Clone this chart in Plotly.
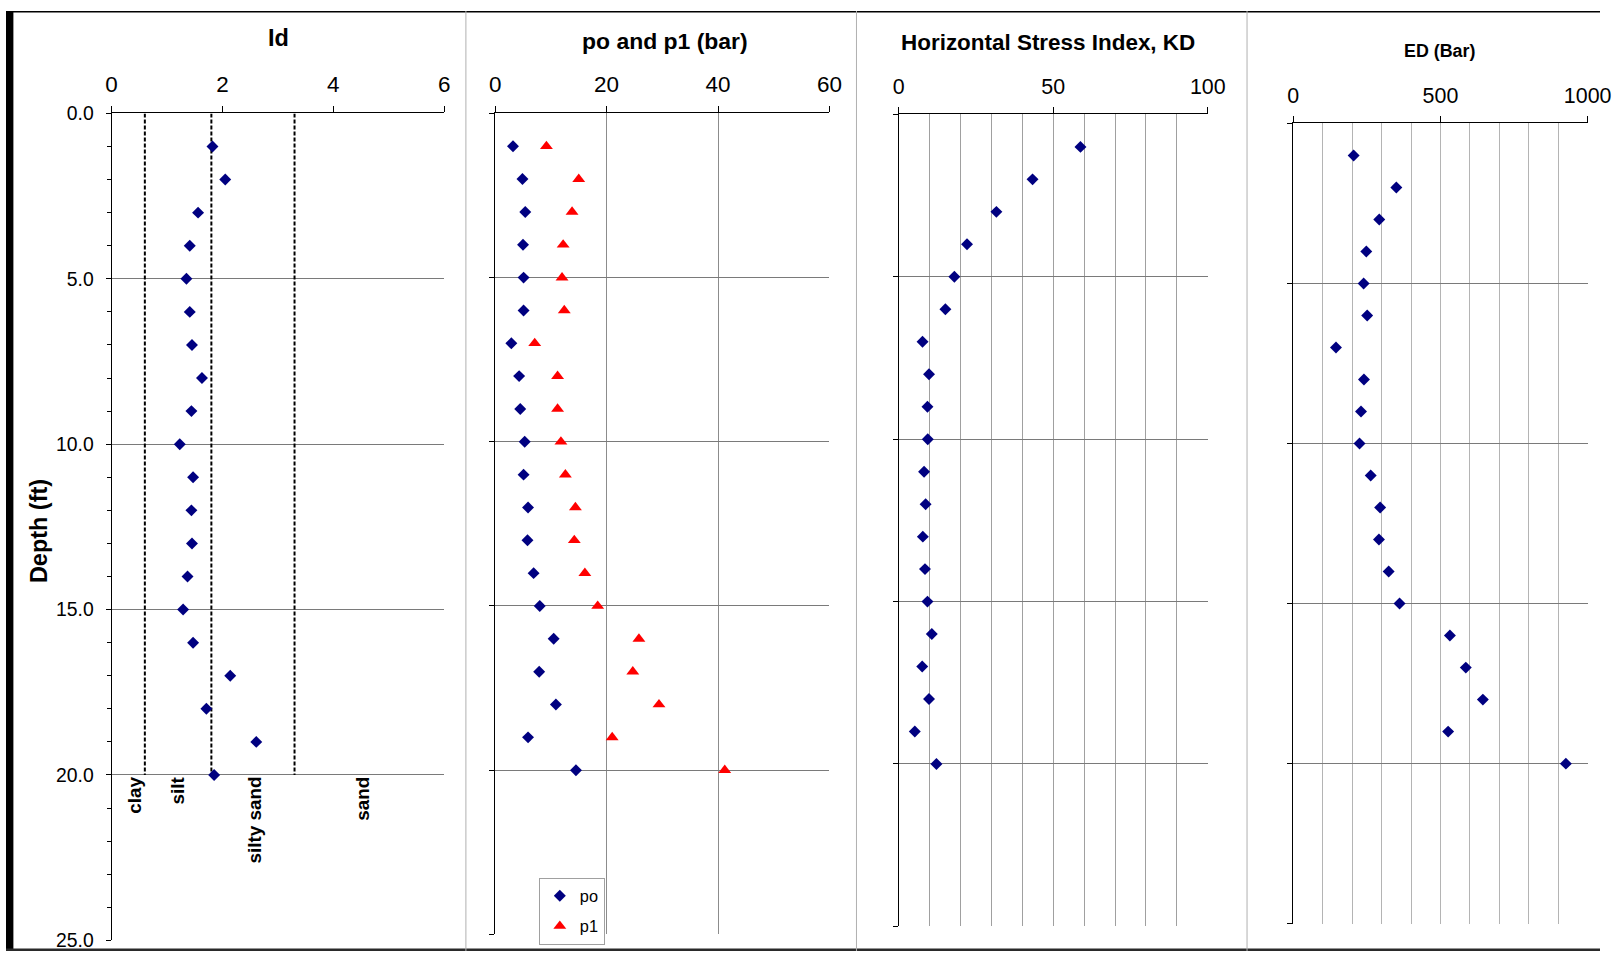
import plotly.graph_objects as go

W, H = 1624, 962

# ---------------- data ----------------
depth = list(range(1, 21))
id_vals = [1.82, 2.05, 1.56, 1.41, 1.35, 1.41, 1.45, 1.63, 1.44, 1.23,
           1.47, 1.44, 1.45, 1.37, 1.29, 1.47, 2.14, 1.71, 2.61, 1.85]
po_vals = [3.2, 4.9, 5.4, 5.0, 5.1, 5.1, 2.9, 4.3, 4.5, 5.3,
           5.1, 5.9, 5.8, 6.9, 8.0, 10.5, 7.9, 10.9, 5.9, 14.5]
p1_vals = [9.2, 15.0, 13.8, 12.2, 12.0, 12.4, 7.1, 11.2, 11.2, 11.8,
           12.6, 14.4, 14.2, 16.1, 18.4, 25.8, 24.7, 29.4, 21.0, 41.2]
kd_vals = [58.8, 43.3, 31.6, 22.1, 18.0, 15.1, 7.7, 9.8, 9.3, 9.4,
           8.2, 8.7, 7.8, 8.5, 9.3, 10.7, 7.6, 9.8, 5.2, 12.2]
ed_vals = [205, 350, 292, 248, 239, 251, 145, 240, 230, 225,
           263, 295, 291, 324, 361, 532, 586, 644, 526, 926]

soil_bounds = [0.6, 1.8, 3.3]
bound_depth = [0, 20]
soil_labels = ["clay", "silt", "silty sand", "sand"]
soil_label_x = [0.41, 1.19, 2.57, 4.53]

depth_ticks = [0, 5, 10, 15, 20, 25]
panel_titles = ["Id", "po and p1 (bar)", "Horizontal Stress Index, KD", "ED (Bar)"]
x_ranges = [[0, 6], [0, 60], [0, 100], [0, 1000]]
x_ticks = [[0, 2, 4, 6], [0, 20, 40, 60], [0, 50, 100], [0, 500, 1000]]

# The photographed page lands slightly scaled and offset in the picture;
# positions below are reference-picture pixels mapped back to page pixels.
SX, OX = 0.9826, 5.6
SY, OY = 0.978, 9.8
K = 1 / ((SX + SY) / 2)   # size compensation for fonts / markers


def fx(px):
    return ((px - OX) / SX) / W


def fy(py):
    return 1 - ((py - OY) / SY) / H


# ---------------- layout geometry (reference pixels) ----------------
panels = [
    (111.3, 444.3, 112.3, 940.0),
    (495.3, 830.0, 112.3, 934.0),
    (899.3, 1208.7, 113.3, 926.0),
    (1294.3, 1589.0, 122.3, 923.3),
]
title_pos = [(278, 37, 23), (665, 40, 22.5), (1049, 41, 22), (1441, 50, 17.5)]
tick_sizes = [22, 22, 21, 21]

FONT = "Liberation Sans, Arial, sans-serif"
NAVY = "#000080"
RED = "#FF0000"
DIA = 9 * K
TRI = 11 * K

fig = go.Figure()

# Panel 1: Id
for b in soil_bounds:
    fig.add_trace(go.Scatter(x=[b, b], y=bound_depth, mode="lines",
                             line=dict(color="black", width=2, dash="4px,2px"),
                             showlegend=False, hoverinfo="skip",
                             xaxis="x", yaxis="y"))
fig.add_trace(go.Scatter(x=id_vals, y=depth, mode="markers",
                         marker=dict(symbol="diamond", size=DIA, color=NAVY),
                         showlegend=False, xaxis="x", yaxis="y"))

# Panel 2: po, p1
fig.add_trace(go.Scatter(x=po_vals, y=depth, mode="markers", name="po",
                         marker=dict(symbol="diamond", size=DIA, color=NAVY),
                         legendgroup="a", xaxis="x2", yaxis="y2"))
fig.add_trace(go.Scatter(x=p1_vals, y=depth, mode="markers", name="p1",
                         marker=dict(symbol="triangle-up", size=TRI, color=RED),
                         legendgroup="b", xaxis="x2", yaxis="y2"))

# Panel 3: KD
fig.add_trace(go.Scatter(x=kd_vals, y=depth, mode="markers",
                         marker=dict(symbol="diamond", size=DIA, color=NAVY),
                         showlegend=False, xaxis="x3", yaxis="y3"))

# Panel 4: ED
fig.add_trace(go.Scatter(x=ed_vals, y=depth, mode="markers",
                         marker=dict(symbol="diamond", size=DIA, color=NAVY),
                         showlegend=False, xaxis="x4", yaxis="y4"))

layout = dict(
    autosize=True,
    margin=dict(l=0, r=0, t=0, b=0, pad=0),
    paper_bgcolor="white", plot_bgcolor="white",
    font=dict(family=FONT, color="black"),
    legend=dict(x=fx(539), y=fy(877.3), xanchor="left", yanchor="top",
                bgcolor="white", bordercolor="#a0a0a0", borderwidth=1,
                font=dict(size=16 * K, family=FONT), tracegroupgap=6,
                itemwidth=30),
)

for i, (x0, x1, y0, y1) in enumerate(panels):
    n = "" if i == 0 else str(i + 1)
    xa = dict(domain=[fx(x0), fx(x1)], anchor="y" + n, side="top",
              range=x_ranges[i], tickvals=x_ticks[i],
              showline=True, linecolor="black", linewidth=1,
              ticks="outside", ticklen=6, tickcolor="black",
              tickfont=dict(size=tick_sizes[i] * K, family=FONT),
              ticklabelstandoff=5,
              zeroline=False, fixedrange=True)
    if i == 0:
        xa["showgrid"] = False
    elif i == 1:
        xa.update(showgrid=True, gridcolor="#8c8c8c", gridwidth=1)
    elif i == 2:
        xa.update(showgrid=True, gridcolor="#a0a0a0", gridwidth=1,
                  minor=dict(dtick=10, showgrid=True, gridcolor="#a0a0a0", ticks=""))
    else:
        xa.update(showgrid=True, gridcolor="#b4b4b4", gridwidth=1,
                  minor=dict(dtick=100, showgrid=True, gridcolor="#b4b4b4", ticks=""))
    ya = dict(domain=[fy(y1), fy(y0)], anchor="x" + n,
              range=[25, 0], tickvals=depth_ticks,
              showline=True, linecolor="black", linewidth=1,
              ticks="outside", ticklen=5, tickcolor="black",
              showgrid=True, gridcolor="#7a7a7a", gridwidth=1,
              zeroline=False, fixedrange=True)
    if i == 0:
        ya.update(showticklabels=True, tickformat=".1f",
                  tickfont=dict(size=19 * K, family=FONT), ticklabelstandoff=8,
                  minor=dict(dtick=1, ticks="outside", ticklen=4,
                             tickcolor="black", showgrid=False))
    else:
        ya["showticklabels"] = False
    layout["xaxis" + n] = xa
    layout["yaxis" + n] = ya

annotations = []
for (px, py, fs), t in zip(title_pos, panel_titles):
    annotations.append(dict(text="<b>%s</b>" % t, x=fx(px), y=fy(py),
                            xref="paper", yref="paper", xanchor="center",
                            yanchor="middle", showarrow=False,
                            font=dict(size=fs * K, family=FONT)))
annotations.append(dict(text="<b>Depth (ft)</b>", x=fx(38), y=fy(530),
                        xref="paper", yref="paper", textangle=-90,
                        xanchor="center", yanchor="middle", showarrow=False,
                        font=dict(size=23 * K, family=FONT)))
for lab, lx in zip(soil_labels, soil_label_x):
    annotations.append(dict(text="<b>%s</b>" % lab, x=lx, y=bound_depth[1],
                            xref="x", yref="y", textangle=-90,
                            xanchor="center", yanchor="top", showarrow=False,
                            font=dict(size=18.5 * K, family=FONT)))
layout["annotations"] = annotations

# page frame decorations (thick black left / top edges, bottom edge, separators)
shapes = [
    dict(type="rect", xref="paper", yref="paper", x0=0, x1=max(fx(13), 0), y0=0, y1=1,
         line=dict(width=0), fillcolor="black", layer="above"),
    dict(type="rect", xref="paper", yref="paper", x0=0, x1=1, y0=min(fy(11), 1 - 1.5 / H), y1=1,
         line=dict(width=0), fillcolor="black", layer="above"),
    dict(type="rect", xref="paper", yref="paper", x0=0, x1=1, y0=0, y1=2.5 / H,
         line=dict(width=0), fillcolor="#2a2a2a", layer="above"),
]
for sx in [466, 857, 1248]:
    shapes.append(dict(type="line", xref="paper", yref="paper", x0=fx(sx), x1=fx(sx),
                       y0=0, y1=1, line=dict(color="#b0b0b0", width=1)))
layout["shapes"] = shapes

fig.update_layout(**layout)

# The graph div is pinned to the top-left corner of the window so the default
# body margin of the page does not shift the chart.
fig.write_html("out.html",
               config={"displayModeBar": False},
               default_width="1624px;position:absolute;left:0;top:0",
               default_height="962px")
